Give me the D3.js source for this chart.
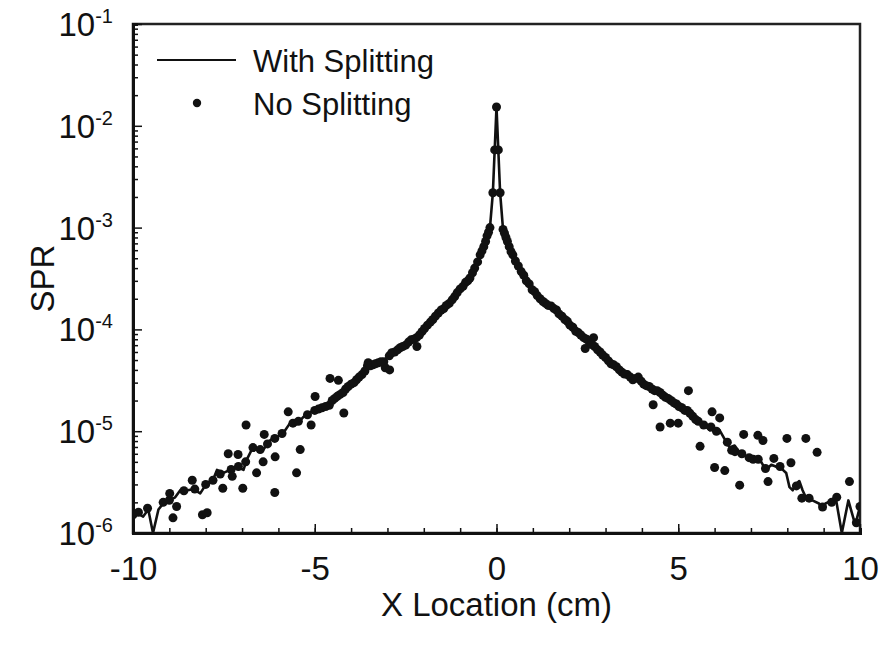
<!DOCTYPE html>
<html>
<head>
<meta charset="utf-8">
<script src="https://cdn.jsdelivr.net/npm/d3@7"></script>
<style>
  body { margin: 0; background: #fff; }
  text { font-family: "Liberation Sans", Arial, sans-serif; fill: #111; }
</style>
</head>
<body>
<script>
// With Splitting (line) - x in cm, SPR
var lineX = [-10, -9.9, -9.72, -9.58, -9.45, -9.3, -9.17, -9.0, -8.84, -8.7, -8.5, -8.34, -8.15, -7.97, -7.8,
  -7.69, -7.51, -7.33, -7.14, -6.96, -6.87, -6.69, -6.6, -6.41, -6.23, -6.05, -5.87, -5.68, -5.5, -5.31,
  -5.14, -5.0, -4.82, -4.66, -4.5, -4.39, -4.25, -4.11, -3.95, -3.84, -3.7, -3.56, -3.43, -3.29, -3.15,
  -3.01, -2.88, -2.74, -2.6, -2.46, -2.3, -2.1, -1.95, -1.8, -1.65, -1.5, -1.36, -1.2, -1.0, -0.85,
  -0.73, -0.6, -0.45, -0.35, -0.26, -0.18, -0.1, 0,
  0.1, 0.18, 0.28, 0.4, 0.55, 0.7, 0.83, 1.0, 1.2, 1.4, 1.55, 1.75, 1.95, 2.11, 2.3, 2.49, 2.65, 2.85,
  3.0, 3.12, 3.26, 3.4, 3.55, 3.67, 3.8, 3.95, 4.1, 4.22, 4.36, 4.5, 4.63, 4.77, 4.9, 5.05, 5.2, 5.41,
  5.6, 5.75, 5.87, 6.0, 6.14, 6.28, 6.42, 6.55, 6.69, 6.83, 6.97, 7.1, 7.24, 7.42, 7.56, 7.7, 7.85, 7.97,
  8.06, 8.15, 8.24, 8.33, 8.42, 8.51, 8.69, 8.87, 8.97, 9.05, 9.24, 9.33, 9.5, 9.68, 9.87, 10];
var lineSPR = [1.45e-6, 1.58e-6, 1.45e-6, 1.7e-6, 1.0e-6, 1.7e-6, 1.95e-6, 2.09e-6, 2.24e-6, 2.63e-6, 2.63e-6,
  2.69e-6, 2.45e-6, 3.09e-6, 3.31e-6, 4.17e-6, 3.89e-6, 4.17e-6, 4.47e-6, 4.17e-6, 5.25e-6, 7.08e-6,
  6.61e-6, 6.61e-6, 8.13e-6, 8.71e-6, 9.55e-6, 1.2e-5, 1.17e-5, 1.38e-5, 1.51e-5, 1.62e-5, 1.66e-5,
  1.74e-5, 2.04e-5, 2.19e-5, 2.34e-5, 2.69e-5, 2.95e-5, 3.16e-5, 3.55e-5, 4.27e-5, 4.37e-5, 4.68e-5,
  4.9e-5, 5.25e-5, 5.89e-5, 6.31e-5, 6.76e-5, 7.41e-5, 7.94e-5, 8.91e-5, 1.05e-4, 1.2e-4, 1.38e-4,
  1.58e-4, 1.74e-4, 2.0e-4, 2.45e-4, 2.82e-4, 3.24e-4, 3.98e-4, 5.37e-4, 6.61e-4, 8.13e-4, 1.0e-3,
  2.19e-3, 1.53e-2,
  2.19e-3, 9.55e-4, 7.59e-4, 5.75e-4, 4.47e-4, 3.55e-4, 2.95e-4, 2.4e-4, 1.95e-4, 1.74e-4, 1.62e-4,
  1.38e-4, 1.17e-4, 1.0e-4, 8.91e-5, 7.94e-5, 6.92e-5, 5.89e-5, 5.13e-5, 4.68e-5, 4.37e-5, 3.98e-5,
  3.55e-5, 3.39e-5, 3.31e-5, 3.16e-5, 2.82e-5, 2.69e-5, 2.57e-5, 2.4e-5, 2.14e-5, 2.04e-5, 1.82e-5,
  1.74e-5, 1.58e-5, 1.38e-5, 1.2e-5, 1.12e-5, 1.02e-5, 1.07e-5, 1.02e-5, 8.32e-6, 6.92e-6, 7.24e-6,
  6.17e-6, 5.75e-6, 5.25e-6, 5.5e-6, 5.25e-6, 4.17e-6, 4.68e-6, 4.47e-6, 4.27e-6, 3.89e-6, 2.82e-6,
  2.63e-6, 3.02e-6, 3.24e-6, 2.63e-6, 2.24e-6, 2.09e-6, 1.95e-6, 1.7e-6, 1.95e-6, 2.09e-6, 2.24e-6,
  1.0e-6, 2.09e-6, 1.2e-6, 1.82e-6];

// No Splitting (dots)
var dotX = [-10, -9.85, -9.6, -9.17, -9.0, -8.99, -8.9, -8.8, -8.6, -8.37, -8.3, -8.09, -8.0, -7.96, -7.8,
  -7.6, -7.53, -7.38, -7.3, -7.27, -7.11, -7.1, -6.98, -6.9, -6.89, -6.7, -6.6, -6.5, -6.42, -6.39, -6.3,
  -6.1, -6.1, -6.09, -5.9, -5.73, -5.6, -5.5, -5.45, -5.4, -5.2, -5.1, -5.0, -4.99, -4.8, -4.6, -4.58,
  -4.45, -4.35, -4.3, -4.2, -4.15, -4.0, -3.85, -3.7, -3.55, -3.53, -3.4, -3.25, -3.1, -3.06, -2.95,
  -2.94, -2.8, -2.65, -2.5, -2.35, -2.2, -2.19, -2.05, -1.9, -1.75, -1.6, -1.45, -1.3, -1.15, -1.0,
  -0.85, -0.73, -0.6, -0.45, -0.35, -0.26, -0.18, -0.1, -0.05, 0, 0.05, 0.1,
  0.18, 0.26, 0.35, 0.45, 0.6, 0.75, 0.9, 1.05, 1.2, 1.35, 1.5, 1.65, 1.8, 1.95, 2.1, 2.25, 2.4, 2.44,
  2.55, 2.67, 2.7, 2.85, 3.0, 3.15, 3.3, 3.45, 3.6, 3.75, 3.9, 4.05, 4.2, 4.31, 4.35, 4.5, 4.5, 4.65,
  4.78, 4.8, 4.95, 5.0, 5.1, 5.25, 5.28, 5.4, 5.55, 5.6, 5.7, 5.9, 5.93, 6.0, 6.05, 6.14, 6.28, 6.35,
  6.47, 6.56, 6.69, 6.75, 6.8, 6.95, 7.06, 7.19, 7.2, 7.33, 7.4, 7.47, 7.63, 7.8, 7.99, 8.1, 8.25, 8.4,
  8.51, 8.6, 8.82, 8.97, 9.22, 9.36, 9.71, 9.9, 10,
  -4.9, -4.7, -4.52, -4.38, -4.22, -4.08, -3.92, -3.78, -3.62, -3.47, -3.33, -3.18, -2.88, -2.72, -2.58,
  -2.42, -2.28, -2.12, -1.98, -1.82, -1.68, -1.52, -1.38, -1.22, -1.08, -0.92, -0.79, -0.66, -0.52, -0.4,
  -0.3, -0.22, 0.22, 0.3, 0.4, 0.52, 0.68, 0.82, 0.98, 1.12, 1.28, 1.42, 1.58, 1.72, 1.88, 2.02, 2.18,
  2.32, 2.48, 2.62, 2.78, 2.92, 3.08, 3.22, 3.38, 3.52, 3.68, 3.82, 3.98, 4.12, 4.28, 4.42, 4.58, 4.72,
  4.88, 5.02, 5.18, 5.32, 5.48];
var dotSPR = [1.51e-6, 1.6e-6, 1.75e-6, 2.0e-6, 2.1e-6, 2.45e-6, 1.41e-6, 1.82e-6, 2.6e-6, 3.3e-6, 2.7e-6,
  1.51e-6, 3.0e-6, 1.58e-6, 3.3e-6, 3.8e-6, 2.75e-6, 6.0e-6, 4.2e-6, 3.6e-6, 5.9e-6, 4.5e-6, 2.75e-6,
  5.0e-6, 1.15e-5, 6.9e-6, 3.9e-6, 6.6e-6, 5.0e-6, 9.3e-6, 7.5e-6, 8.5e-6, 2.5e-6, 5.6e-6, 9.5e-6,
  1.55e-5, 1.2e-5, 3.9e-6, 1.25e-5, 6.6e-6, 1.45e-5, 1.15e-5, 1.6e-5, 2.19e-5, 1.7e-5, 1.8e-5, 3.3e-5,
  2.1e-5, 3.16e-5, 2.3e-5, 1.51e-5, 2.6e-5, 2.9e-5, 3.2e-5, 3.6e-5, 4.4e-5, 4.7e-5, 4.5e-5, 4.7e-5,
  4.8e-5, 4.2e-5, 5.5e-5, 4.0e-5, 6.0e-5, 6.6e-5, 7.0e-5, 7.9e-5, 8.3e-5, 6.8e-5, 9.5e-5, 1.1e-4,
  1.25e-4, 1.45e-4, 1.6e-4, 1.8e-4, 2.1e-4, 2.5e-4, 2.9e-4, 3.2e-4, 4.0e-4, 5.4e-4, 6.5e-4, 8.3e-4,
  1.0e-3, 2.2e-3, 5.8e-3, 1.53e-2, 5.8e-3, 2.2e-3,
  9.6e-4, 8.0e-4, 6.5e-4, 5.4e-4, 4.2e-4, 3.4e-4, 2.8e-4, 2.35e-4, 2.0e-4, 1.8e-4, 1.7e-4, 1.55e-4,
  1.35e-4, 1.2e-4, 1.05e-4, 9.3e-5, 8.3e-5, 6.5e-5, 7.6e-5, 8.3e-5, 6.8e-5, 6.0e-5, 5.3e-5, 4.6e-5,
  4.3e-5, 3.8e-5, 3.6e-5, 3.2e-5, 3.4e-5, 2.9e-5, 2.75e-5, 1.82e-5, 2.5e-5, 2.4e-5, 1.1e-5, 2.15e-5,
  1.2e-5, 2.0e-5, 1.85e-5, 1.2e-5, 1.7e-5, 1.6e-5, 2.5e-5, 1.4e-5, 1.25e-5, 7.1e-6, 1.15e-5, 1.1e-5,
  1.55e-5, 4.4e-6, 1.0e-5, 1.35e-5, 4.1e-6, 7.8e-6, 6.5e-6, 6.3e-6, 2.95e-6, 6.0e-6, 9.3e-6, 5.5e-6,
  5.3e-6, 9.1e-6, 5.3e-6, 8.1e-6, 4.3e-6, 3.2e-6, 5.4e-6, 4.5e-6, 8.5e-6, 4.9e-6, 2.9e-6, 2.2e-6,
  8.5e-6, 2.2e-6, 6.2e-6, 1.8e-6, 2.0e-6, 2.25e-6, 3.2e-6, 1.26e-6, 1.82e-6,
  1.65e-5, 1.75e-5, 2.0e-5, 2.2e-5, 2.4e-5, 2.75e-5, 3.0e-5, 3.4e-5, 3.9e-5, 4.4e-5, 4.6e-5, 4.8e-5,
  5.9e-5, 6.3e-5, 6.8e-5, 7.5e-5, 8.0e-5, 8.8e-5, 1.02e-4, 1.18e-4, 1.35e-4, 1.55e-4, 1.72e-4, 1.95e-4,
  2.3e-4, 2.65e-4, 3.0e-4, 3.6e-4, 4.6e-4, 5.9e-4, 7.3e-4, 9.0e-4, 8.8e-4, 7.3e-4, 5.8e-4, 4.7e-4,
  3.7e-4, 3.0e-4, 2.45e-4, 2.15e-4, 1.88e-4, 1.72e-4, 1.6e-4, 1.42e-4, 1.25e-4, 1.1e-4, 9.6e-5, 8.8e-5,
  8.0e-5, 7.1e-5, 6.3e-5, 5.6e-5, 4.9e-5, 4.5e-5, 4.0e-5, 3.65e-5, 3.4e-5, 3.3e-5, 3.1e-5, 2.8e-5,
  2.6e-5, 2.5e-5, 2.25e-5, 2.1e-5, 1.9e-5, 1.75e-5, 1.6e-5, 1.5e-5, 1.3e-5];

var xTicks = [-10, -5, 0, 5, 10];
var yExponents = [-6, -5, -4, -3, -2, -1];

var svgWidth = 884;
var svgHeight = 648;
var plot = { left: 133, right: 860, top: 24, bottom: 533 };

var svg = d3.select("body").append("svg")
  .attr("width", svgWidth)
  .attr("height", svgHeight);

var x = d3.scaleLinear().domain([-10, 10]).range([plot.left, plot.right]);
var y = d3.scaleLog().domain([1e-6, 1e-1]).range([plot.bottom, plot.top]);

svg.append("clipPath").attr("id", "clip")
  .append("rect")
  .attr("x", plot.left).attr("y", plot.top - 2)
  .attr("width", plot.right - plot.left).attr("height", plot.bottom - plot.top + 2);

// frame
svg.append("rect")
  .attr("x", plot.left).attr("y", plot.top)
  .attr("width", plot.right - plot.left).attr("height", plot.bottom - plot.top)
  .attr("fill", "none").attr("stroke", "#222").attr("stroke-width", 2.5);

// minor ticks
var minorY = [];
yExponents.slice(0, -1).forEach(function(e) {
  for (var k = 2; k <= 9; k++) minorY.push(k * Math.pow(10, e));
});
svg.append("g").attr("transform", `translate(${plot.left},0)`)
  .call(d3.axisLeft(y).tickValues(minorY).tickSize(-5).tickFormat(""));
svg.append("g").attr("transform", `translate(0,${plot.bottom})`)
  .call(d3.axisBottom(x).tickValues(d3.range(-9, 10)).tickSize(-5).tickFormat(""));

// major axes
var yAxis = svg.append("g").attr("transform", `translate(${plot.left},0)`)
  .call(d3.axisLeft(y).tickValues(yExponents.map(e => Math.pow(10, e)))
    .tickSizeInner(-9).tickSizeOuter(0).tickFormat(""));
var xAxis = svg.append("g").attr("transform", `translate(0,${plot.bottom})`)
  .call(d3.axisBottom(x).tickValues(xTicks).tickSizeInner(-9).tickSizeOuter(0).tickFormat(d => String(d)));

svg.selectAll(".domain").attr("stroke", "#111").attr("stroke-width", 3);
svg.selectAll(".tick line").attr("stroke", "#111").attr("stroke-width", 1.5);

xAxis.selectAll(".tick text")
  .attr("y", 47).attr("dy", null)
  .style("font-size", "33px").style("font-family", "Liberation Sans, Arial, sans-serif")
  .attr("fill", "#111");

// y labels as 10 with superscript exponent
yExponents.forEach(function(e) {
  var t = svg.append("text")
    .attr("x", 113)
    .attr("y", y(Math.pow(10, e)) + 12)
    .attr("text-anchor", "end")
    .style("font-size", "33px");
  t.append("tspan").text("10");
  t.append("tspan").attr("dy", -13).style("font-size", "20px").text(e);
});

// axis titles
svg.append("text")
  .attr("x", (plot.left + plot.right) / 2)
  .attr("y", 616)
  .attr("text-anchor", "middle")
  .style("font-size", "33px")
  .text("X Location (cm)");

svg.append("text")
  .attr("transform", `translate(54, ${(plot.top + plot.bottom) / 2}) rotate(-90)`)
  .attr("text-anchor", "middle")
  .style("font-size", "33px")
  .text("SPR");

// data
var chart = svg.append("g").attr("clip-path", "url(#clip)");

var lineData = lineX.map((d, i) => [d, lineSPR[i]]);
chart.append("path")
  .datum(lineData)
  .attr("fill", "none")
  .attr("stroke", "#111")
  .attr("stroke-width", 2.6)
  .attr("stroke-linejoin", "round")
  .attr("d", d3.line().x(d => x(d[0])).y(d => y(d[1])));

chart.selectAll("circle")
  .data(dotX.map((d, i) => [d, dotSPR[i]]))
  .enter()
  .append("circle")
  .attr("cx", d => x(d[0]))
  .attr("cy", d => y(d[1]))
  .attr("r", 4.5)
  .attr("fill", "#111");

// legend
var legend = svg.append("g");
legend.append("line")
  .attr("x1", 157).attr("x2", 236).attr("y1", 60).attr("y2", 60)
  .attr("stroke", "#111").attr("stroke-width", 2.2);
legend.append("circle").attr("cx", 197).attr("cy", 103).attr("r", 4.2).attr("fill", "#111");
legend.append("text").attr("x", 253).attr("y", 72).style("font-size", "31px").text("With Splitting");
legend.append("text").attr("x", 253).attr("y", 115).style("font-size", "31px").text("No Splitting");
</script>
</body>
</html>
